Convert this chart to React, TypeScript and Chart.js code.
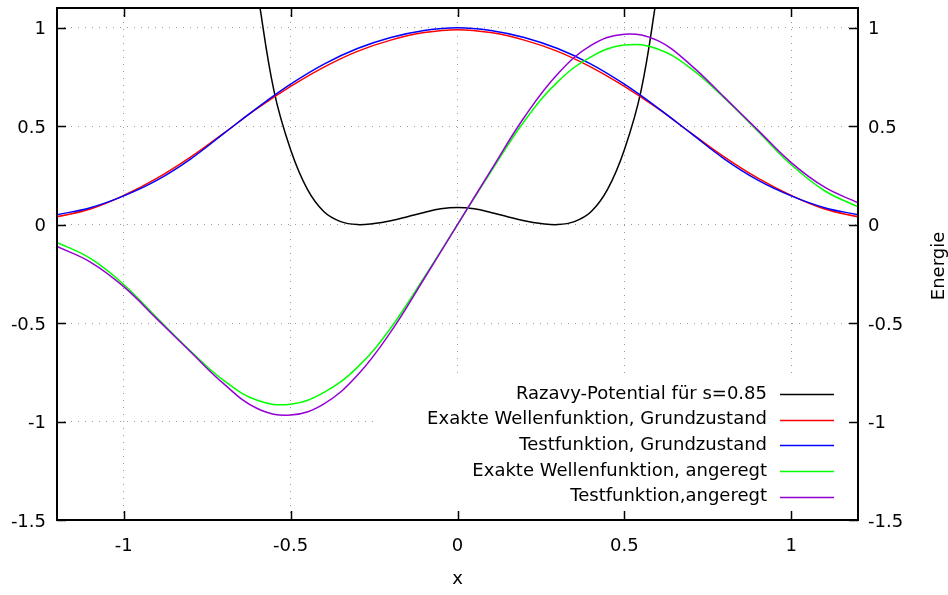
import React, { useEffect, useRef } from "react";
import { Chart, registerables } from "chart.js";

Chart.register(...registerables);

// ---- data ----
const xTicks = [-1, -0.5, 0, 0.5, 1];
const yTicks = [-1.5, -1, -0.5, 0, 0.5, 1];

const waveX = [
  -1.2, -1.1, -1.0, -0.9, -0.8, -0.7, -0.6, -0.5, -0.4, -0.3, -0.2, -0.1, 0,
  0.1, 0.2, 0.3, 0.4, 0.5, 0.6, 0.7, 0.8, 0.9, 1.0, 1.1, 1.2,
];
const exaktGrund = [
  0.040, 0.079, 0.148, 0.236, 0.343, 0.465, 0.590, 0.702, 0.800, 0.880, 0.937, 0.975, 0.990,
  0.975, 0.937, 0.880, 0.800, 0.702, 0.590, 0.465, 0.343, 0.236, 0.148, 0.079, 0.040,
];
const testGrund = [
  0.050, 0.086, 0.146, 0.226, 0.333, 0.463, 0.593, 0.713, 0.815, 0.894, 0.950, 0.986, 1.000,
  0.986, 0.950, 0.894, 0.815, 0.713, 0.593, 0.463, 0.333, 0.226, 0.146, 0.086, 0.050,
];
const exaktAngeregt = [
  -0.090, -0.172, -0.304, -0.474, -0.642, -0.792, -0.892, -0.912, -0.852, -0.725, -0.525, -0.268, 0,
  0.268, 0.525, 0.725, 0.852, 0.912, 0.892, 0.792, 0.642, 0.474, 0.304, 0.172, 0.090,
];
const testAngeregt = [
  -0.111, -0.190, -0.315, -0.480, -0.646, -0.809, -0.934, -0.967, -0.910, -0.765, -0.545, -0.275, 0,
  0.275, 0.545, 0.765, 0.910, 0.967, 0.934, 0.809, 0.646, 0.480, 0.315, 0.190, 0.111,
];

const potX = [
  -0.6, -0.55, -0.5, -0.45, -0.4, -0.35, -0.3, -0.25, -0.2, -0.15, -0.1, -0.05, 0,
  0.05, 0.1, 0.15, 0.2, 0.25, 0.3, 0.35, 0.4, 0.45, 0.5, 0.55, 0.6,
];
const potential = [
  1.19, 0.68, 0.38, 0.18, 0.065, 0.015, 0.0, 0.006, 0.02, 0.04, 0.062, 0.08, 0.087,
  0.08, 0.062, 0.04, 0.02, 0.006, 0.0, 0.015, 0.065, 0.18, 0.38, 0.68, 1.19,
];

const seriesNames = [
  "Razavy-Potential für s=0.85",
  "Exakte Wellenfunktion, Grundzustand",
  "Testfunktion, Grundzustand",
  "Exakte Wellenfunktion, angeregt",
  "Testfunktion,angeregt",
];
const seriesColors = ["#000000", "#ff0000", "#0000ff", "#00ff00", "#9400d3"];

const FONT = "'DejaVu Sans', Verdana, sans-serif";

const zip = (xs: number[], ys: number[]) => xs.map((x, i) => ({ x, y: ys[i] }));

const framePlugin = {
  id: "gnuplotFrame",
  beforeDatasetsDraw(chart: any) {
    const { ctx, chartArea } = chart;
    // opaque key box hides the grid behind the legend
    ctx.save();
    ctx.fillStyle = "#ffffff";
    ctx.fillRect(376, 378, chartArea.right - 376, chartArea.bottom - 378);
    ctx.restore();
  },
  afterDatasetsDraw(chart: any) {
    const { ctx, chartArea } = chart;
    const { left, right, top, bottom } = chartArea;
    const xs = chart.scales.x;
    const ys = chart.scales.y;
    ctx.save();
    ctx.strokeStyle = "#000";
    ctx.lineWidth = 1.5;
    const tl = 9;
    ctx.beginPath();
    xTicks.forEach((v) => {
      const p = Math.round(xs.getPixelForValue(v)) + 0.5;
      ctx.moveTo(p, bottom);
      ctx.lineTo(p, bottom - tl);
      ctx.moveTo(p, top);
      ctx.lineTo(p, top + tl);
    });
    yTicks.forEach((v) => {
      const p = Math.round(ys.getPixelForValue(v)) + 0.5;
      ctx.moveTo(left, p);
      ctx.lineTo(left + tl, p);
      ctx.moveTo(right, p);
      ctx.lineTo(right - tl, p);
    });
    ctx.stroke();
    ctx.lineWidth = 2;
    ctx.strokeRect(left, top, right - left, bottom - top);

    // legend (key)
    ctx.font = `18px ${FONT}`;
    ctx.textAlign = "right";
    ctx.textBaseline = "middle";
    seriesNames.forEach((name, i) => {
      const y = 394 + i * 25.7;
      ctx.fillStyle = "#000";
      ctx.fillText(name, 767, y);
      ctx.strokeStyle = seriesColors[i];
      ctx.lineWidth = 1.5;
      ctx.beginPath();
      ctx.moveTo(780, Math.round(y) + 0.5);
      ctx.lineTo(834, Math.round(y) + 0.5);
      ctx.stroke();
    });

    // axis titles
    ctx.fillStyle = "#000";
    ctx.textAlign = "center";
    ctx.textBaseline = "middle";
    ctx.fillText("x", (left + right) / 2, 579);
    ctx.translate(939, (top + bottom) / 2 + 2);
    ctx.rotate(-Math.PI / 2);
    ctx.fillText("Energie", 0, 0);
    ctx.restore();
  },
};

export default function App() {
  const ref = useRef<HTMLCanvasElement>(null);

  useEffect(() => {
    const canvas = ref.current;
    if (!canvas) return;
    const setTicks = (vals: number[]) => (scale: any) => {
      scale.ticks = vals.map((v) => ({ value: v }));
    };
    const fitTo = (key: "width" | "height", size: number) => (s: any) => {
      s[key] = size;
      s.paddingTop = 0;
      s.paddingBottom = 0;
      s.paddingLeft = 0;
      s.paddingRight = 0;
    };
    const tickFont = { family: FONT, size: 18 };
    const lineDs = (label: string, data: any[], color: string, order: number, tension: number) => ({
      label,
      data,
      borderColor: color,
      backgroundColor: color,
      borderWidth: 1.5,
      pointRadius: 0,
      fill: false,
      tension,
      order,
    });

    const chart = new Chart(canvas, {
      type: "line",
      data: {
        datasets: [
          lineDs(seriesNames[0], zip(potX, potential), seriesColors[0], 5, 0.4),
          lineDs(seriesNames[1], zip(waveX, exaktGrund), seriesColors[1], 4, 0.4),
          lineDs(seriesNames[2], zip(waveX, testGrund), seriesColors[2], 3, 0.4),
          lineDs(seriesNames[3], zip(waveX, exaktAngeregt), seriesColors[3], 2, 0.4),
          lineDs(seriesNames[4], zip(waveX, testAngeregt), seriesColors[4], 1, 0.4),
        ],
      },
      options: {
        animation: false,
        responsive: false,
        maintainAspectRatio: false,
        devicePixelRatio: 1,
        layout: { padding: { top: 8, left: 0, right: 0, bottom: 0 } },
        plugins: { legend: { display: false }, tooltip: { enabled: false } },
        scales: {
          x: {
            type: "linear",
            position: "bottom",
            min: -1.2,
            max: 1.2,
            afterBuildTicks: setTicks(xTicks),
            afterFit: fitTo("height", 75),
            grid: { color: "#9a9a9a", lineWidth: 1, drawTicks: false },
            border: { display: false, dash: [1, 6] },
            ticks: {
              font: tickFont,
              color: "#000",
              padding: 16,
              maxRotation: 0,
              autoSkip: false,
              callback: (v: any) => String(v),
            },
          },
          y: {
            type: "linear",
            position: "left",
            min: -1.5,
            max: 1.1,
            afterBuildTicks: setTicks(yTicks),
            afterFit: fitTo("width", 57),
            grid: { color: "#9a9a9a", lineWidth: 1, drawTicks: false },
            border: { display: false, dash: [1, 6] },
            ticks: {
              font: tickFont,
              color: "#000",
              padding: 11,
              labelOffset: 2,
              autoSkip: false,
              callback: (v: any) => String(v),
            },
          },
          y2: {
            type: "linear",
            position: "right",
            min: -1.5,
            max: 1.1,
            afterBuildTicks: setTicks(yTicks),
            afterFit: fitTo("width", 90),
            grid: { display: false, drawTicks: false },
            border: { display: false },
            ticks: {
              font: tickFont,
              color: "#000",
              padding: 10,
              labelOffset: 2,
              autoSkip: false,
              callback: (v: any) => String(v),
            },
          },
        },
      },
      plugins: [framePlugin],
    } as any);

    return () => chart.destroy();
  }, []);

  return (
    <div
      style={{
        position: "fixed",
        left: 0,
        top: 0,
        width: 948,
        height: 595,
        background: "#fff",
      }}
    >
      <canvas ref={ref} width={948} height={595} style={{ display: "block" }} />
    </div>
  );
}
